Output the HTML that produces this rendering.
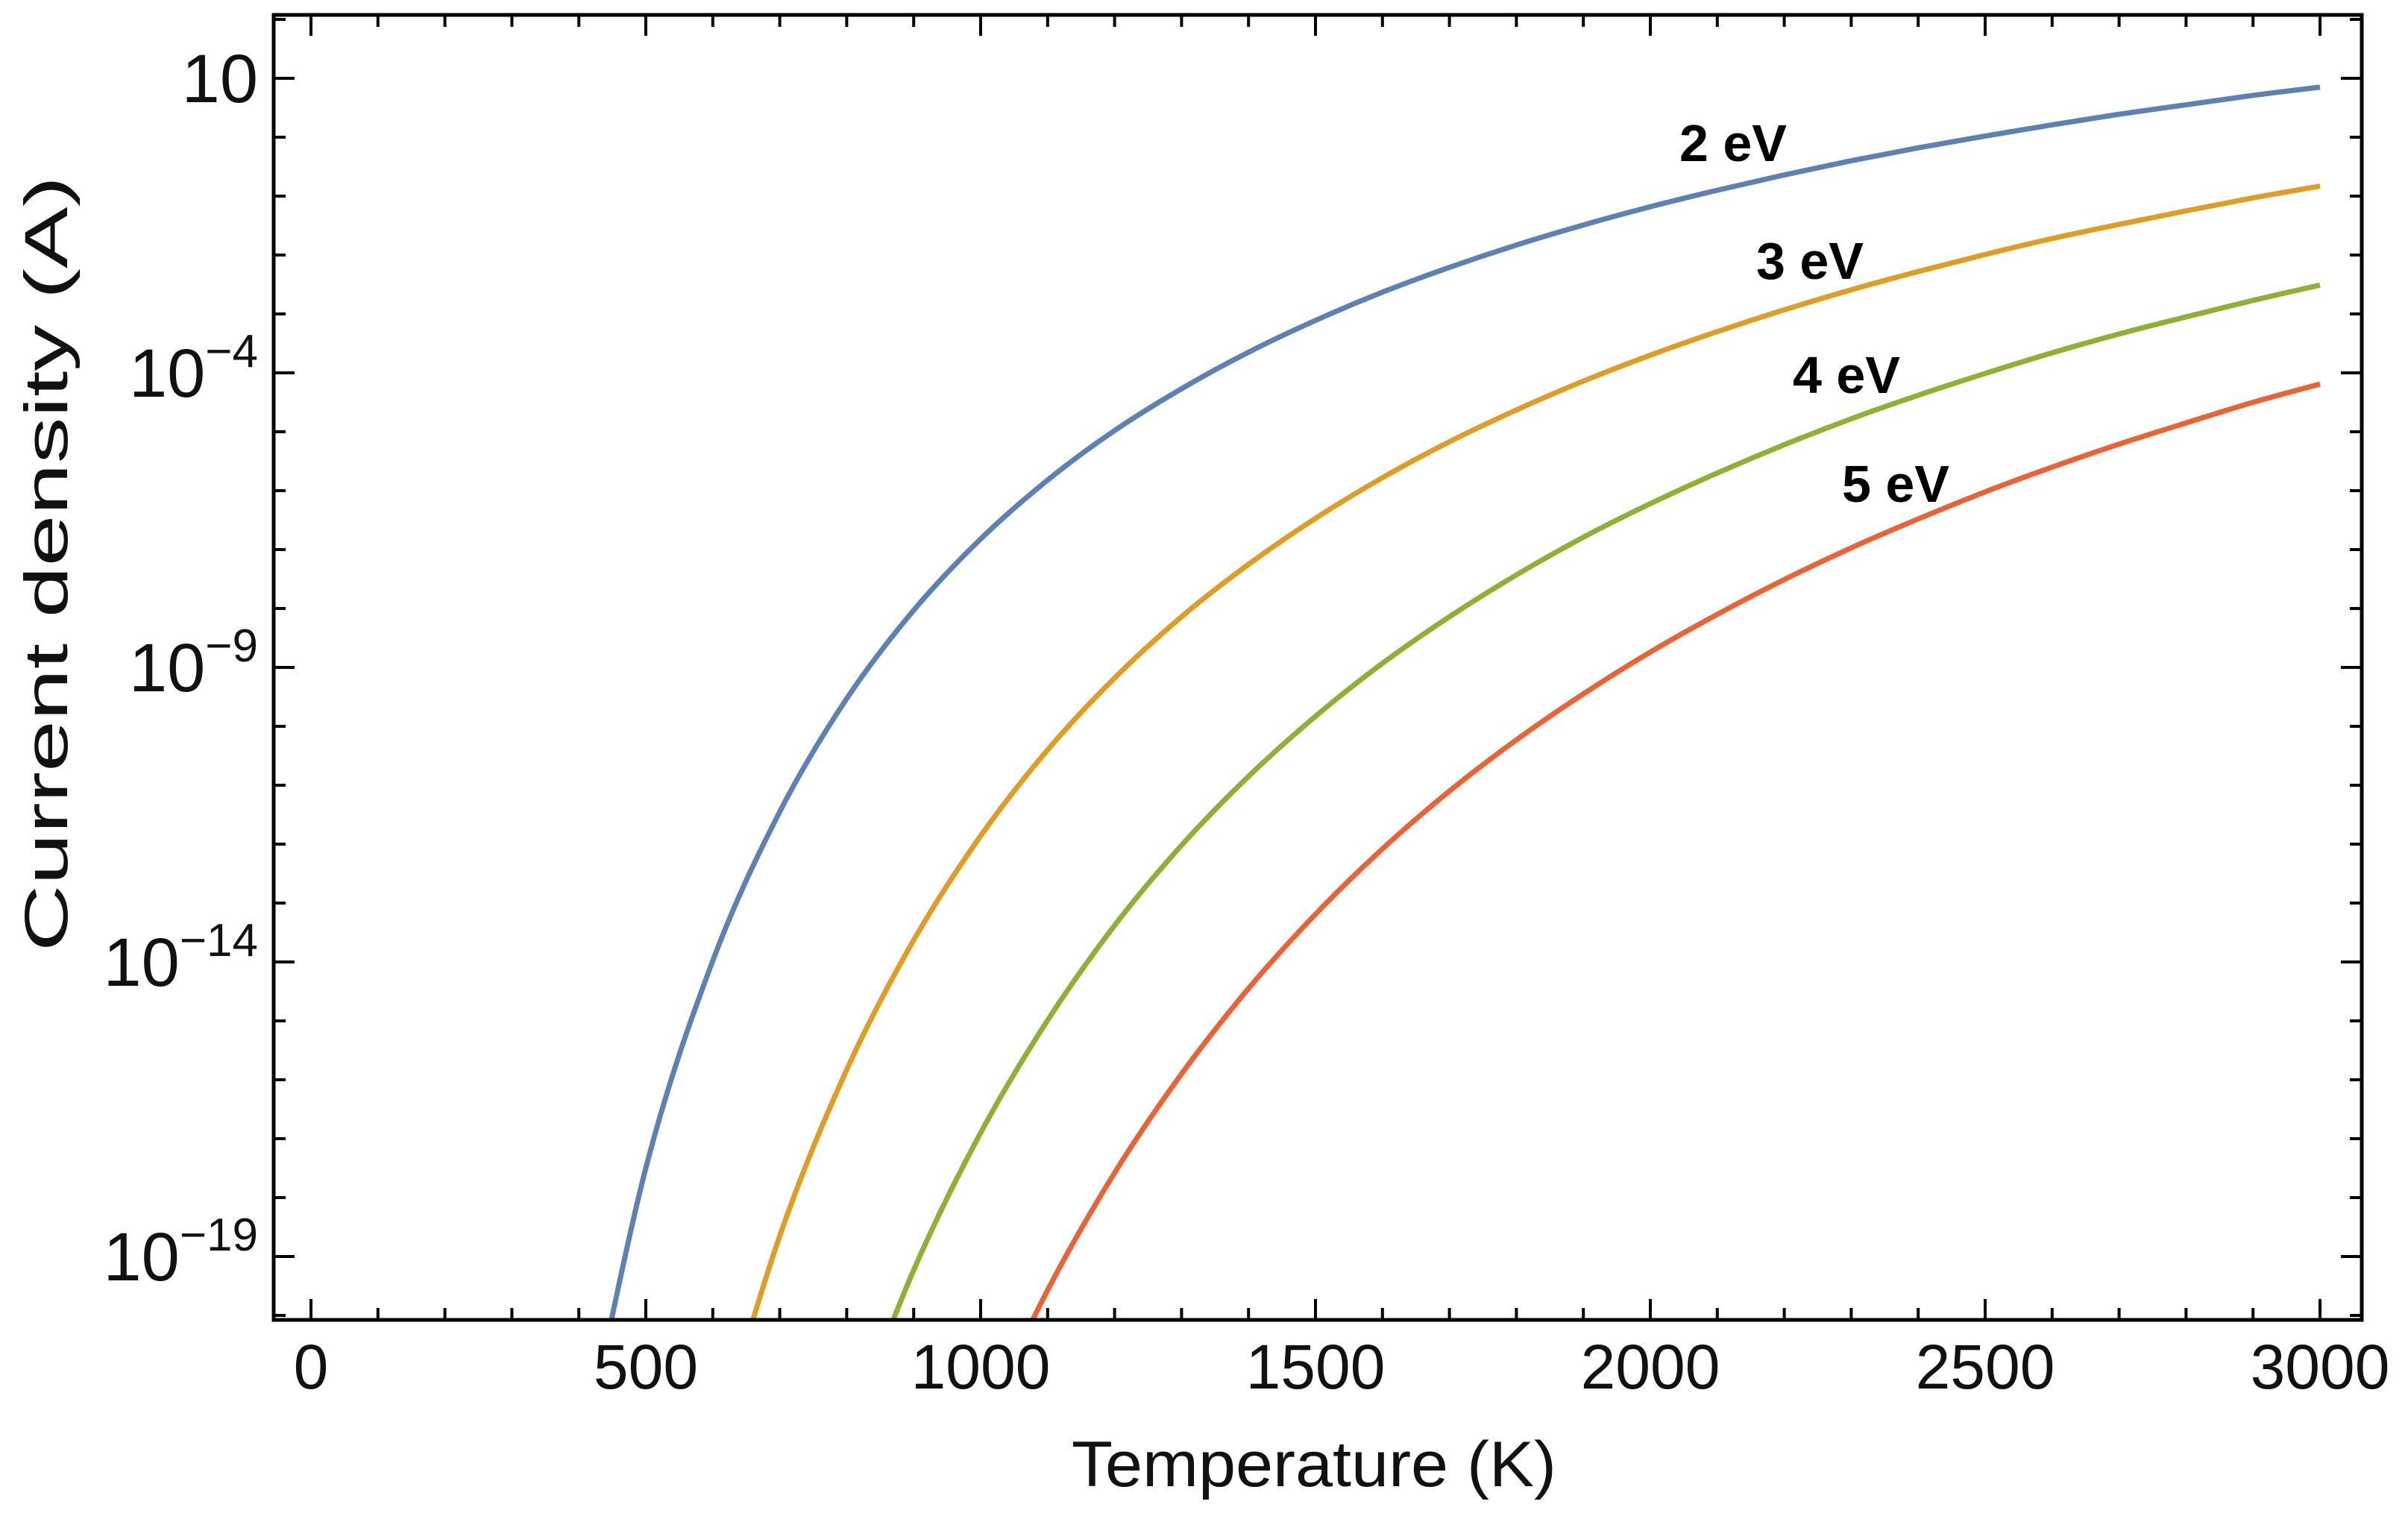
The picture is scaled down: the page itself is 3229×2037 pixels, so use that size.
<!DOCTYPE html>
<html><head><meta charset="utf-8"><style>
html,body{margin:0;padding:0;background:#fff;}
svg{display:block;font-family:"Liberation Sans",Arial,sans-serif;}
</style></head><body>
<svg id="chart" width="3229" height="2037" viewBox="0 0 3229 2037" xmlns="http://www.w3.org/2000/svg">
<rect width="3229" height="2037" fill="#fff"/>
<defs><clipPath id="plotclip"><rect x="367" y="20" width="2800" height="1750"/></clipPath></defs>
<g id="ticks"></g>
<g id="series" clip-path="url(#plotclip)"></g>
<rect x="367" y="20" width="2800" height="1750" fill="none" stroke="#000" stroke-width="5"/>
<g id="labels"></g>
<text x="1762" y="1993" font-size="86" text-anchor="middle" textLength="650" lengthAdjust="spacingAndGlyphs" fill="#111">Temperature (K)</text>
<text transform="translate(90,756) rotate(-90)" font-size="82" text-anchor="middle" textLength="1040" lengthAdjust="spacingAndGlyphs" fill="#111">Current density  (A)</text>
<text x="2324" y="216" font-size="70" font-weight="bold" text-anchor="middle">2 eV</text>
<text x="2427" y="374" font-size="70" font-weight="bold" text-anchor="middle">3 eV</text>
<text x="2476" y="527" font-size="70" font-weight="bold" text-anchor="middle">4 eV</text>
<text x="2542" y="673" font-size="70" font-weight="bold" text-anchor="middle">5 eV</text>
</svg>
<script>
const xTicks = [0, 500, 1000, 1500, 2000, 2500, 3000];
const yTickExps = [1, -4, -9, -14, -19];
const temps2 = [400,500,600,700,800,900,1000,1100,1200,1300,1400,1500,1600,1700,1800,1900,2000,2100,2200,2300,2400,2500,2600,2700,2800,2900,3000];
const logJ2 = [-22.74,-17.50,-13.98,-11.45,-9.53,-8.03,-6.82,-5.82,-4.98,-4.27,-3.65,-3.11,-2.63,-2.21,-1.83,-1.49,-1.18,-0.90,-0.64,-0.40,-0.18,0.02,0.21,0.39,0.55,0.71,0.85];
const temps3 = [600,700,800,900,1000,1100,1200,1300,1400,1500,1600,1700,1800,1900,2000,2100,2200,2300,2400,2500,2600,2700,2800,2900,3000];
const logJ3 = [-22.38,-18.65,-15.83,-13.63,-11.86,-10.40,-9.18,-8.14,-7.25,-6.47,-5.78,-5.17,-4.63,-4.14,-3.70,-3.30,-2.93,-2.59,-2.28,-1.99,-1.72,-1.48,-1.25,-1.03,-0.83];
const temps4 = [800,900,1000,1100,1200,1300,1400,1500,1600,1700,1800,1900,2000,2100,2200,2300,2400,2500,2600,2700,2800,2900,3000];
const logJ4 = [-22.13,-19.23,-16.90,-14.99,-13.38,-12.02,-10.85,-9.83,-8.93,-8.14,-7.43,-6.79,-6.22,-5.70,-5.22,-4.78,-4.38,-4.01,-3.66,-3.34,-3.05,-2.77,-2.51];
const temps5 = [1000,1100,1200,1300,1400,1500,1600,1700,1800,1900,2000,2100,2200,2300,2400,2500,2600,2700,2800,2900,3000];
const logJ5 = [-21.94,-19.57,-17.58,-15.90,-14.45,-13.19,-12.08,-11.10,-10.23,-9.45,-8.74,-8.10,-7.51,-6.97,-6.48,-6.02,-5.60,-5.21,-4.85,-4.50,-4.19];

const NS = "http://www.w3.org/2000/svg";
const X0 = 417, XPER = 449/500;
const Y1 = 105, YDEC = 79;
function xs(t){ return X0 + t*XPER; }
function ys(l){ return Y1 + (1-l)*YDEC; }
function mk(tag, attrs, parent){ const e=document.createElementNS(NS,tag); for(const k in attrs) e.setAttribute(k,attrs[k]); parent.appendChild(e); return e; }

const tg = document.getElementById('ticks');
for(let t=-100;t<=3100;t+=100){
  const x=xs(t); if(x<367||x>3167) continue;
  const major = t%500===0, L = major?28:16;
  const a=mk('line',{x1:x,x2:x,y1:1770,y2:1770-L,stroke:'#000','stroke-width':4},tg);
  
  
  const b=mk('line',{x1:x,x2:x,y1:20,y2:20+L,stroke:'#000','stroke-width':4},tg);
  
  
}
for(let e=2;e>=-21;e--){
  const y=ys(e); if(y<20||y>1770) continue;
  const major = yTickExps.includes(e), L = major?28:16;
  const a=mk('line',{x1:367,x2:367+L,y1:y,y2:y,stroke:'#000','stroke-width':4},tg);
  
  
  const b=mk('line',{x1:3167,x2:3167-L,y1:y,y2:y,stroke:'#000','stroke-width':4},tg);
  
  
}
const lg = document.getElementById('labels');
xTicks.forEach(t=>{
  const el=mk('text',{x:xs(t),y:1862,'font-size':84,'text-anchor':'middle',fill:'#111'},lg);
  
  
  el.textContent=String(t);
});
yTickExps.forEach(e=>{
  const el=mk('text',{x:346,y:ys(e)+32,'font-size':92,'text-anchor':'end',fill:'#111'},lg);
  
  
  if(e===1){ el.textContent='10'; }
  else {
    const s1=mk('tspan',{},el); s1.textContent='10';
    const s2=mk('tspan',{dy:-40,'font-size':62},el); s2.textContent='\u2212'+Math.abs(e);
  }
});
function path(ts, ls){
  const p = ts.map((t,i)=>[xs(t), ys(ls[i])]);
  let d = 'M'+p[0][0]+','+p[0][1];
  for(let i=0;i<p.length-1;i++){
    const p0=p[Math.max(0,i-1)], p1=p[i], p2=p[i+1], p3=p[Math.min(p.length-1,i+2)];
    const c1=[p1[0]+(p2[0]-p0[0])/6, p1[1]+(p2[1]-p0[1])/6];
    const c2=[p2[0]-(p3[0]-p1[0])/6, p2[1]-(p3[1]-p1[1])/6];
    d+=' C'+c1[0]+','+c1[1]+' '+c2[0]+','+c2[1]+' '+p2[0]+','+p2[1];
  }
  return d;
}
const sg=document.getElementById('series');
const s2=mk('path',{d:path(temps2,logJ2),fill:'none',stroke:'#5e81b5','stroke-width':7},sg);


const s3=mk('path',{d:path(temps3,logJ3),fill:'none',stroke:'#e19c24','stroke-width':7},sg);


const s4=mk('path',{d:path(temps4,logJ4),fill:'none',stroke:'#8fb032','stroke-width':7},sg);


const s5=mk('path',{d:path(temps5,logJ5),fill:'none',stroke:'#eb6235','stroke-width':7},sg);


</script>
</body></html>
